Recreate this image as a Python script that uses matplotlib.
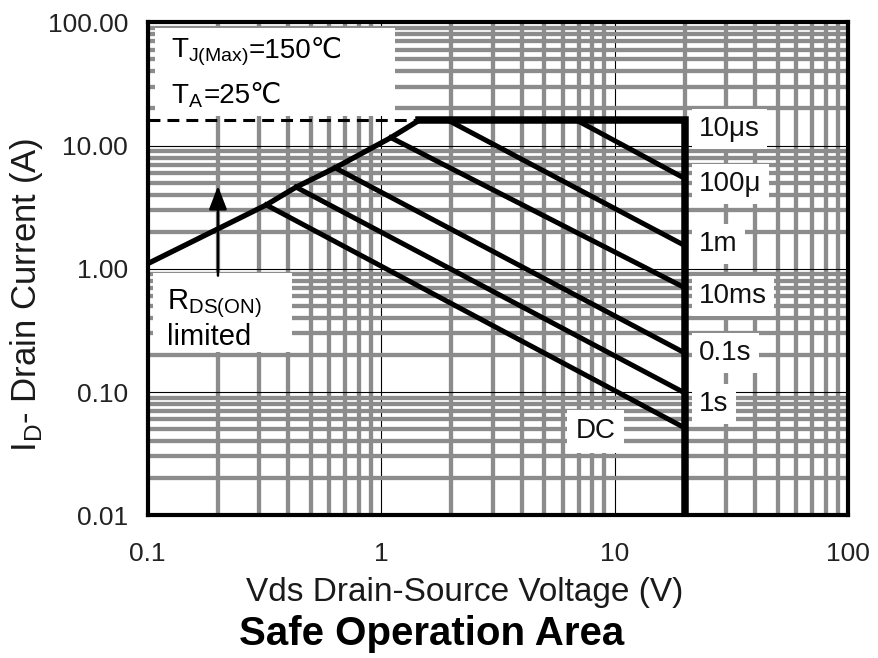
import numpy as np
import matplotlib.pyplot as plt
from matplotlib.patches import Rectangle
from matplotlib.ticker import FixedLocator, FixedFormatter, LogLocator, NullFormatter

plt.rcParams['font.family'] = ['Liberation Sans', 'DejaVu Sans']
plt.rcParams['mathtext.fontset'] = 'custom'
plt.rcParams['mathtext.rm'] = 'Liberation Sans'

# RDS(ON) limit line, read where the pulse curves branch off it
rds_v = [0.1, 0.322, 0.432, 0.635, 1.10, 1.45]
rds_i = [1.1, 3.3, 4.6, 6.6, 11.6, 16.0]

i_limit = 16.0   # A, flat current limit (10us)
v_limit = 20.0   # V, Vds rating

# pulse-width curves: start on the limit lines, end at Vds = 20 V
pulse_v0 = [6.9, 1.94, 1.10, 0.635, 0.432, 0.322]
pulse_i0 = [16.0, 16.0, 11.6, 6.6, 4.6, 3.3]
pulse_i1 = [5.4, 1.54, 0.70, 0.207, 0.098, 0.051]

curve_labels = ['10μs', '100μ', '1m', '10ms', '0.1s', '1s']
label_i = [13.7, 4.9, 1.6, 0.6, 0.207, 0.08]

x_ticks = [0.1, 1, 10, 100]
x_ticklabels = ['0.1', '1', '10', '100']
y_ticks = [0.01, 0.1, 1, 10, 100]
y_ticklabels = ['0.01', '0.10', '1.00', '10.00', '100.00']

fig = plt.figure(figsize=(8.79, 6.58), dpi=100)
ax = fig.add_axes([0.168, 0.217, 0.797, 0.749])
ax.set_xscale('log')
ax.set_yscale('log')
ax.set_xlim(0.1, 100)
ax.set_ylim(0.01, 100)

ax.xaxis.set_major_locator(FixedLocator(x_ticks))
ax.xaxis.set_major_formatter(FixedFormatter(x_ticklabels))
ax.yaxis.set_major_locator(FixedLocator(y_ticks))
ax.yaxis.set_major_formatter(FixedFormatter(y_ticklabels))
for axis in (ax.xaxis, ax.yaxis):
    axis.set_minor_locator(LogLocator(base=10, subs=np.arange(2, 10)))
    axis.set_minor_formatter(NullFormatter())

ax.set_axisbelow(True)
ax.grid(which='minor', color='#8c8c8c', lw=3.1)
ax.grid(which='major', color='black', lw=0.8)
ax.tick_params(which='both', length=0, labelsize=19, labelcolor='#222222')
ax.tick_params(axis='x', pad=19)
ax.tick_params(axis='y', pad=14)
for s in ax.spines.values():
    s.set_linewidth(3)
    s.set_color('black')
    s.set_zorder(6)

# white note boxes over the grid
ax.add_patch(Rectangle((0.01, 0.811), 0.343, 0.177, transform=ax.transAxes,
                       facecolor='white', edgecolor='none', zorder=2))
ax.add_patch(Rectangle((0.007, 0.331), 0.199, 0.16, transform=ax.transAxes,
                       facecolor='white', edgecolor='none', zorder=2))

# limit lines
ax.plot(rds_v, rds_i, color='black', lw=3.8, zorder=3)
ax.plot([0.1, rds_v[-1]], [i_limit, i_limit], color='black', lw=2.2,
        dashes=(3.9, 2.3), zorder=3)
ax.plot([rds_v[-1], v_limit, v_limit], [i_limit, i_limit, 0.01], color='black',
        lw=5.4, solid_joinstyle='miter', zorder=3)
for v0, i0, i1 in zip(pulse_v0, pulse_i0, pulse_i1):
    ax.plot([v0, v_limit], [i0, i1], color='black', lw=3.6, zorder=3)

# curve labels on the right
for lab, yi in zip(curve_labels, label_i):
    ax.text(23, yi, lab, fontsize=20, ha='left', va='center', zorder=4,
            color='#111111',
            bbox=dict(facecolor='white', edgecolor='none', pad=5))
ax.text(8.3, 0.048, 'DC', fontsize=20, ha='center', va='center', zorder=4,
        color='#111111', bbox=dict(facecolor='white', edgecolor='none', pad=6))

# temperature notes
t1 = ax.text(0.034, 0.929, r'T$_{\mathregular{J(Max)}}$', fontsize=20,
             transform=ax.transAxes, va='baseline', zorder=4)
ax.annotate('=150℃', xy=(1, 0.929), xycoords=(t1, 'axes fraction'),
            fontsize=20, va='baseline', ha='left', zorder=4)
t2 = ax.text(0.034, 0.836, r'T$_{\mathregular{A}}$', fontsize=20,
             transform=ax.transAxes, va='baseline', zorder=4)
ax.annotate('=25℃', xy=(1, 0.836), xycoords=(t2, 'axes fraction'),
            fontsize=20, va='baseline', ha='left', zorder=4)

# RDS(ON) note with arrow
ax.annotate('', xy=(0.2, 4.7), xytext=(0.2, 0.88),
            arrowprops=dict(arrowstyle='-|>,head_length=0.65,head_width=0.25',
                            color='black', lw=1.8, mutation_scale=22,
                            shrinkA=0, shrinkB=0), zorder=4)
ax.text(0.027, 0.418, r'R$_{\mathregular{DS(ON)}}$', fontsize=21,
        transform=ax.transAxes, va='baseline', zorder=4)
ax.text(0.027, 0.345, 'limited', fontsize=21, transform=ax.transAxes,
        va='baseline', zorder=4)

fig.text(27 / 879, 1 - 295 / 658, r'I$_{\mathregular{D}}$- Drain Current (A)',
         rotation=90, ha='center', va='center', fontsize=25, color='#1a1a1a')
fig.text(465 / 879, 1 - 592 / 658, 'Vds Drain-Source Voltage (V)',
         ha='center', va='center', fontsize=24, color='#1a1a1a')
fig.text(432 / 879, 1 - 634 / 658, 'Safe Operation Area', ha='center',
         va='center', fontsize=29, fontweight='bold')

fig.savefig('out.png', dpi=100)
